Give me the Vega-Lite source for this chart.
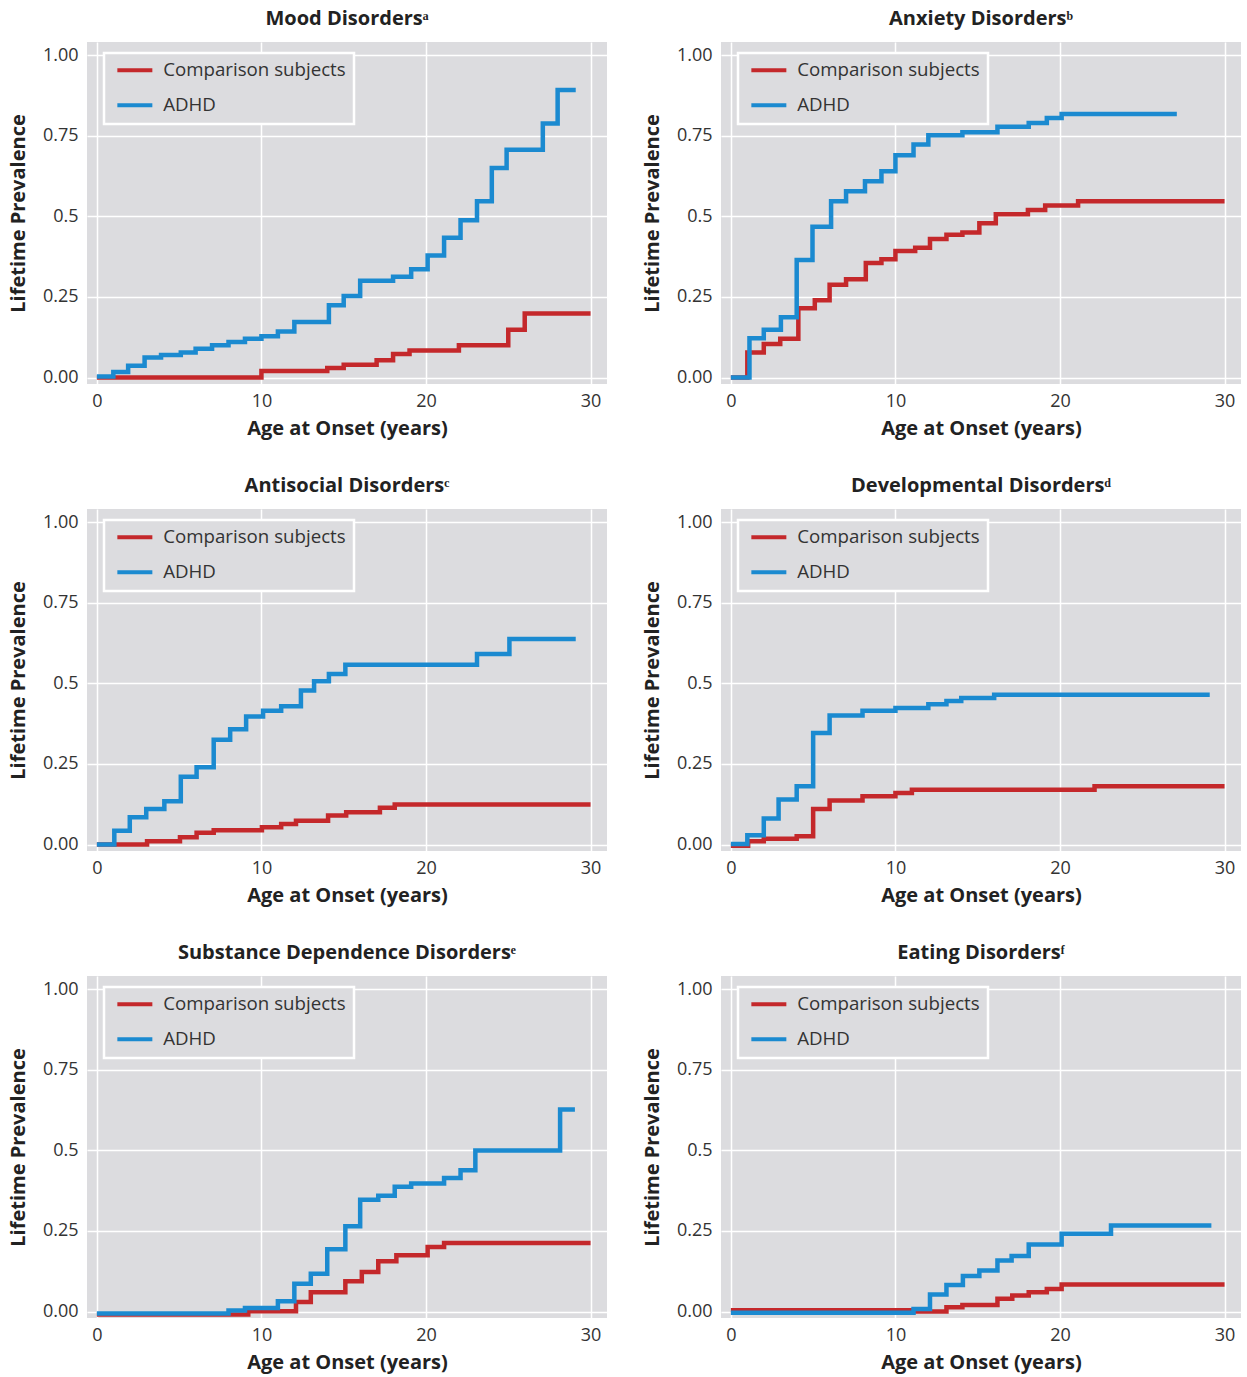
{
  "$schema": "https://vega.github.io/schema/vega-lite/v6.json",
  "padding": {"left": 8, "top": 9, "right": 0, "bottom": 2},
  "background": "white",
  "columns": 2,
  "spacing": {"row": 125, "column": 114},
  "bounds": "flush",
  "resolve": {"legend": {"color": "independent"}},
  "config": {
    "font": "Open Sans",
    "view": {"fill": "#dcdcdf", "stroke": null},
    "axis": {
      "grid": true, "gridColor": "#ffffff", "gridWidth": 1.5, "domain": false, "ticks": false,
      "labelFontSize": 18, "labelColor": "#333333", "labelPadding": 8,
      "titleFontSize": 20, "titleFontWeight": "bold", "titleColor": "#222222"
    },
    "axisY": {"labelPadding": 9, "titlePadding": 14},
    "axisX": {"titlePadding": 8},
    "title": {"fontSize": 20, "fontWeight": "bold", "color": "#222222", "offset": 13, "anchor": "middle"},
    "legend": {
      "orient": "none", "legendX": 17, "legendY": 11,
      "title": null, "symbolType": "M-2.5,0H2.5", "symbolStrokeWidth": 4, "symbolSize": 196,
      "labelFontSize": 18.7, "labelColor": "#333333", "labelOffset": 19, "labelLimit": 400,
      "padding": 8, "symbolOffset": 13.5, "rowPadding": 15,
      "strokeColor": "#ffffff", "strokeWidth": 2.5, "fillColor": "#dcdcdf"
    }
  },
  "datasets": {
    "mood": [
      {"g": "Comparison subjects", "a": 0, "p": 0}, {"g": "Comparison subjects", "a": 10, "p": 0.02}, {"g": "Comparison subjects", "a": 14, "p": 0.03}, {"g": "Comparison subjects", "a": 15, "p": 0.04}, {"g": "Comparison subjects", "a": 17, "p": 0.054}, {"g": "Comparison subjects", "a": 18, "p": 0.073}, {"g": "Comparison subjects", "a": 19, "p": 0.084}, {"g": "Comparison subjects", "a": 22, "p": 0.1}, {"g": "Comparison subjects", "a": 25, "p": 0.148}, {"g": "Comparison subjects", "a": 26, "p": 0.199}, {"g": "Comparison subjects", "a": 30, "p": 0.199},
      {"g": "ADHD", "a": 0, "p": 0.003}, {"g": "ADHD", "a": 1, "p": 0.017}, {"g": "ADHD", "a": 1.9, "p": 0.037}, {"g": "ADHD", "a": 2.9, "p": 0.062}, {"g": "ADHD", "a": 3.9, "p": 0.07}, {"g": "ADHD", "a": 5.1, "p": 0.078}, {"g": "ADHD", "a": 6, "p": 0.089}, {"g": "ADHD", "a": 7, "p": 0.1}, {"g": "ADHD", "a": 8, "p": 0.11}, {"g": "ADHD", "a": 9, "p": 0.12}, {"g": "ADHD", "a": 10, "p": 0.128}, {"g": "ADHD", "a": 11, "p": 0.143}, {"g": "ADHD", "a": 12, "p": 0.172}, {"g": "ADHD", "a": 14.1, "p": 0.224}, {"g": "ADHD", "a": 15, "p": 0.253}, {"g": "ADHD", "a": 16, "p": 0.3}, {"g": "ADHD", "a": 18, "p": 0.313}, {"g": "ADHD", "a": 19.1, "p": 0.336}, {"g": "ADHD", "a": 20.1, "p": 0.379}, {"g": "ADHD", "a": 21.1, "p": 0.434}, {"g": "ADHD", "a": 22.1, "p": 0.488}, {"g": "ADHD", "a": 23.1, "p": 0.547}, {"g": "ADHD", "a": 24, "p": 0.65}, {"g": "ADHD", "a": 24.9, "p": 0.707}, {"g": "ADHD", "a": 27.1, "p": 0.788}, {"g": "ADHD", "a": 28, "p": 0.892}, {"g": "ADHD", "a": 29.1, "p": 0.892}
    ],
    "anx": [
      {"g": "Comparison subjects", "a": 0, "p": 0}, {"g": "Comparison subjects", "a": 1, "p": 0.078}, {"g": "Comparison subjects", "a": 2, "p": 0.104}, {"g": "Comparison subjects", "a": 3, "p": 0.12}, {"g": "Comparison subjects", "a": 4.1, "p": 0.215}, {"g": "Comparison subjects", "a": 5.1, "p": 0.24}, {"g": "Comparison subjects", "a": 6, "p": 0.288}, {"g": "Comparison subjects", "a": 7, "p": 0.305}, {"g": "Comparison subjects", "a": 8.2, "p": 0.355}, {"g": "Comparison subjects", "a": 9.15, "p": 0.367}, {"g": "Comparison subjects", "a": 10, "p": 0.393}, {"g": "Comparison subjects", "a": 11.2, "p": 0.403}, {"g": "Comparison subjects", "a": 12.1, "p": 0.43}, {"g": "Comparison subjects", "a": 13.1, "p": 0.443}, {"g": "Comparison subjects", "a": 14.07, "p": 0.45}, {"g": "Comparison subjects", "a": 15.1, "p": 0.479}, {"g": "Comparison subjects", "a": 16.1, "p": 0.507}, {"g": "Comparison subjects", "a": 18.05, "p": 0.52}, {"g": "Comparison subjects", "a": 19.1, "p": 0.534}, {"g": "Comparison subjects", "a": 21.1, "p": 0.547}, {"g": "Comparison subjects", "a": 30, "p": 0.547},
      {"g": "ADHD", "a": 0, "p": 0}, {"g": "ADHD", "a": 1.13, "p": 0.122}, {"g": "ADHD", "a": 2, "p": 0.148}, {"g": "ADHD", "a": 3.04, "p": 0.187}, {"g": "ADHD", "a": 4, "p": 0.365}, {"g": "ADHD", "a": 4.96, "p": 0.468}, {"g": "ADHD", "a": 6.09, "p": 0.547}, {"g": "ADHD", "a": 7, "p": 0.578}, {"g": "ADHD", "a": 8.15, "p": 0.609}, {"g": "ADHD", "a": 9.15, "p": 0.64}, {"g": "ADHD", "a": 10, "p": 0.69}, {"g": "ADHD", "a": 11.1, "p": 0.723}, {"g": "ADHD", "a": 12, "p": 0.752}, {"g": "ADHD", "a": 14.07, "p": 0.761}, {"g": "ADHD", "a": 16.2, "p": 0.778}, {"g": "ADHD", "a": 18.1, "p": 0.79}, {"g": "ADHD", "a": 19.2, "p": 0.805}, {"g": "ADHD", "a": 20.1, "p": 0.818}, {"g": "ADHD", "a": 27.1, "p": 0.818}
    ],
    "anti": [
      {"g": "Comparison subjects", "a": 0, "p": 0}, {"g": "Comparison subjects", "a": 3.05, "p": 0.01}, {"g": "Comparison subjects", "a": 5.05, "p": 0.023}, {"g": "Comparison subjects", "a": 6.06, "p": 0.037}, {"g": "Comparison subjects", "a": 7.1, "p": 0.044}, {"g": "Comparison subjects", "a": 10.03, "p": 0.054}, {"g": "Comparison subjects", "a": 11.2, "p": 0.064}, {"g": "Comparison subjects", "a": 12.1, "p": 0.074}, {"g": "Comparison subjects", "a": 14.05, "p": 0.09}, {"g": "Comparison subjects", "a": 15.15, "p": 0.1}, {"g": "Comparison subjects", "a": 17.2, "p": 0.114}, {"g": "Comparison subjects", "a": 18.1, "p": 0.124}, {"g": "Comparison subjects", "a": 30, "p": 0.124},
      {"g": "ADHD", "a": 0, "p": 0}, {"g": "ADHD", "a": 1.06, "p": 0.043}, {"g": "ADHD", "a": 2, "p": 0.085}, {"g": "ADHD", "a": 3, "p": 0.11}, {"g": "ADHD", "a": 4.1, "p": 0.134}, {"g": "ADHD", "a": 5.1, "p": 0.21}, {"g": "ADHD", "a": 6.06, "p": 0.24}, {"g": "ADHD", "a": 7.1, "p": 0.325}, {"g": "ADHD", "a": 8.1, "p": 0.358}, {"g": "ADHD", "a": 9.07, "p": 0.397}, {"g": "ADHD", "a": 10.1, "p": 0.415}, {"g": "ADHD", "a": 11.2, "p": 0.429}, {"g": "ADHD", "a": 12.4, "p": 0.478}, {"g": "ADHD", "a": 13.2, "p": 0.507}, {"g": "ADHD", "a": 14.1, "p": 0.529}, {"g": "ADHD", "a": 15.1, "p": 0.558}, {"g": "ADHD", "a": 23.1, "p": 0.591}, {"g": "ADHD", "a": 25.07, "p": 0.638}, {"g": "ADHD", "a": 29.1, "p": 0.638}
    ],
    "dev": [
      {"g": "Comparison subjects", "a": 0, "p": -0.004}, {"g": "Comparison subjects", "a": 1.05, "p": 0.01}, {"g": "Comparison subjects", "a": 2, "p": 0.018}, {"g": "Comparison subjects", "a": 4, "p": 0.026}, {"g": "Comparison subjects", "a": 5, "p": 0.11}, {"g": "Comparison subjects", "a": 6, "p": 0.137}, {"g": "Comparison subjects", "a": 8, "p": 0.15}, {"g": "Comparison subjects", "a": 10, "p": 0.16}, {"g": "Comparison subjects", "a": 11, "p": 0.17}, {"g": "Comparison subjects", "a": 22.1, "p": 0.181}, {"g": "Comparison subjects", "a": 30, "p": 0.181},
      {"g": "ADHD", "a": 0, "p": 0.002}, {"g": "ADHD", "a": 1, "p": 0.029}, {"g": "ADHD", "a": 2, "p": 0.081}, {"g": "ADHD", "a": 2.9, "p": 0.14}, {"g": "ADHD", "a": 4, "p": 0.181}, {"g": "ADHD", "a": 5, "p": 0.346}, {"g": "ADHD", "a": 6, "p": 0.4}, {"g": "ADHD", "a": 8, "p": 0.415}, {"g": "ADHD", "a": 10, "p": 0.424}, {"g": "ADHD", "a": 12, "p": 0.435}, {"g": "ADHD", "a": 13.1, "p": 0.445}, {"g": "ADHD", "a": 14, "p": 0.455}, {"g": "ADHD", "a": 16, "p": 0.465}, {"g": "ADHD", "a": 29.1, "p": 0.465}
    ],
    "sub": [
      {"g": "Comparison subjects", "a": 0, "p": -0.009}, {"g": "Comparison subjects", "a": 9.2, "p": 0.001}, {"g": "Comparison subjects", "a": 12.1, "p": 0.03}, {"g": "Comparison subjects", "a": 13, "p": 0.06}, {"g": "Comparison subjects", "a": 15.1, "p": 0.094}, {"g": "Comparison subjects", "a": 16.1, "p": 0.123}, {"g": "Comparison subjects", "a": 17.1, "p": 0.156}, {"g": "Comparison subjects", "a": 18.2, "p": 0.175}, {"g": "Comparison subjects", "a": 20.1, "p": 0.2}, {"g": "Comparison subjects", "a": 21.1, "p": 0.213}, {"g": "Comparison subjects", "a": 30, "p": 0.213},
      {"g": "ADHD", "a": 0, "p": -0.006}, {"g": "ADHD", "a": 8, "p": 0.003}, {"g": "ADHD", "a": 9, "p": 0.011}, {"g": "ADHD", "a": 11, "p": 0.032}, {"g": "ADHD", "a": 12, "p": 0.086}, {"g": "ADHD", "a": 13, "p": 0.117}, {"g": "ADHD", "a": 14, "p": 0.193}, {"g": "ADHD", "a": 15.1, "p": 0.265}, {"g": "ADHD", "a": 16, "p": 0.347}, {"g": "ADHD", "a": 17.1, "p": 0.359}, {"g": "ADHD", "a": 18.1, "p": 0.387}, {"g": "ADHD", "a": 19.1, "p": 0.397}, {"g": "ADHD", "a": 21.1, "p": 0.414}, {"g": "ADHD", "a": 22.1, "p": 0.438}, {"g": "ADHD", "a": 23, "p": 0.5}, {"g": "ADHD", "a": 28.15, "p": 0.627}, {"g": "ADHD", "a": 29.05, "p": 0.627}
    ],
    "eat": [
      {"g": "Comparison subjects", "a": 0, "p": 0.004}, {"g": "Comparison subjects", "a": 11, "p": 0}, {"g": "Comparison subjects", "a": 13.1, "p": 0.013}, {"g": "Comparison subjects", "a": 14.07, "p": 0.02}, {"g": "Comparison subjects", "a": 16.2, "p": 0.04}, {"g": "Comparison subjects", "a": 17.1, "p": 0.05}, {"g": "Comparison subjects", "a": 18.1, "p": 0.06}, {"g": "Comparison subjects", "a": 19.2, "p": 0.07}, {"g": "Comparison subjects", "a": 20.1, "p": 0.084}, {"g": "Comparison subjects", "a": 30, "p": 0.084},
      {"g": "ADHD", "a": 0, "p": -0.004}, {"g": "ADHD", "a": 11.1, "p": 0.008}, {"g": "ADHD", "a": 12.1, "p": 0.053}, {"g": "ADHD", "a": 13.1, "p": 0.082}, {"g": "ADHD", "a": 14.1, "p": 0.11}, {"g": "ADHD", "a": 15.1, "p": 0.127}, {"g": "ADHD", "a": 16.2, "p": 0.158}, {"g": "ADHD", "a": 17.06, "p": 0.172}, {"g": "ADHD", "a": 18.1, "p": 0.208}, {"g": "ADHD", "a": 20.1, "p": 0.241}, {"g": "ADHD", "a": 23.1, "p": 0.267}, {"g": "ADHD", "a": 29.2, "p": 0.267}
    ]
  },
  "concat": [
    {"title": "Mood Disordersᵃ", "width": 520, "height": 342, "data": {"name": "mood"},
     "mark": {"type": "line", "interpolate": "step-after", "strokeWidth": 4.5},
     "encoding": {
       "x": {"field": "a", "type": "quantitative", "scale": {"domain": [-0.6, 31], "nice": false, "zero": false}, "axis": {"values": [0, 10, 20, 30], "title": "Age at Onset (years)"}},
       "y": {"field": "p", "type": "quantitative", "scale": {"domain": [-0.02, 1.041], "nice": false, "zero": false}, "axis": {"values": [0, 0.25, 0.5, 0.75, 1], "labelExpr": "datum.value == 0.5 ? '0.5' : format(datum.value, '.2f')", "title": "Lifetime Prevalence"}},
       "color": {"field": "g", "type": "nominal", "scale": {"domain": ["Comparison subjects", "ADHD"], "range": ["#c4282b", "#1b8ad0"]}}
     }},
    {"title": "Anxiety Disordersᵇ", "width": 520, "height": 342, "data": {"name": "anx"},
     "mark": {"type": "line", "interpolate": "step-after", "strokeWidth": 4.5},
     "encoding": {
       "x": {"field": "a", "type": "quantitative", "scale": {"domain": [-0.6, 31], "nice": false, "zero": false}, "axis": {"values": [0, 10, 20, 30], "title": "Age at Onset (years)"}},
       "y": {"field": "p", "type": "quantitative", "scale": {"domain": [-0.02, 1.041], "nice": false, "zero": false}, "axis": {"values": [0, 0.25, 0.5, 0.75, 1], "labelExpr": "datum.value == 0.5 ? '0.5' : format(datum.value, '.2f')", "title": "Lifetime Prevalence"}},
       "color": {"field": "g", "type": "nominal", "scale": {"domain": ["Comparison subjects", "ADHD"], "range": ["#c4282b", "#1b8ad0"]}}
     }},
    {"title": "Antisocial Disordersᶜ", "width": 520, "height": 342, "data": {"name": "anti"},
     "mark": {"type": "line", "interpolate": "step-after", "strokeWidth": 4.5},
     "encoding": {
       "x": {"field": "a", "type": "quantitative", "scale": {"domain": [-0.6, 31], "nice": false, "zero": false}, "axis": {"values": [0, 10, 20, 30], "title": "Age at Onset (years)"}},
       "y": {"field": "p", "type": "quantitative", "scale": {"domain": [-0.02, 1.041], "nice": false, "zero": false}, "axis": {"values": [0, 0.25, 0.5, 0.75, 1], "labelExpr": "datum.value == 0.5 ? '0.5' : format(datum.value, '.2f')", "title": "Lifetime Prevalence"}},
       "color": {"field": "g", "type": "nominal", "scale": {"domain": ["Comparison subjects", "ADHD"], "range": ["#c4282b", "#1b8ad0"]}}
     }},
    {"title": "Developmental Disordersᵈ", "width": 520, "height": 342, "data": {"name": "dev"},
     "mark": {"type": "line", "interpolate": "step-after", "strokeWidth": 4.5},
     "encoding": {
       "x": {"field": "a", "type": "quantitative", "scale": {"domain": [-0.6, 31], "nice": false, "zero": false}, "axis": {"values": [0, 10, 20, 30], "title": "Age at Onset (years)"}},
       "y": {"field": "p", "type": "quantitative", "scale": {"domain": [-0.02, 1.041], "nice": false, "zero": false}, "axis": {"values": [0, 0.25, 0.5, 0.75, 1], "labelExpr": "datum.value == 0.5 ? '0.5' : format(datum.value, '.2f')", "title": "Lifetime Prevalence"}},
       "color": {"field": "g", "type": "nominal", "scale": {"domain": ["Comparison subjects", "ADHD"], "range": ["#c4282b", "#1b8ad0"]}}
     }},
    {"title": "Substance Dependence Disordersᵉ", "width": 520, "height": 342, "data": {"name": "sub"},
     "mark": {"type": "line", "interpolate": "step-after", "strokeWidth": 4.5},
     "encoding": {
       "x": {"field": "a", "type": "quantitative", "scale": {"domain": [-0.6, 31], "nice": false, "zero": false}, "axis": {"values": [0, 10, 20, 30], "title": "Age at Onset (years)"}},
       "y": {"field": "p", "type": "quantitative", "scale": {"domain": [-0.02, 1.041], "nice": false, "zero": false}, "axis": {"values": [0, 0.25, 0.5, 0.75, 1], "labelExpr": "datum.value == 0.5 ? '0.5' : format(datum.value, '.2f')", "title": "Lifetime Prevalence"}},
       "color": {"field": "g", "type": "nominal", "scale": {"domain": ["Comparison subjects", "ADHD"], "range": ["#c4282b", "#1b8ad0"]}}
     }},
    {"title": "Eating Disordersᶠ", "width": 520, "height": 342, "data": {"name": "eat"},
     "mark": {"type": "line", "interpolate": "step-after", "strokeWidth": 4.5},
     "encoding": {
       "x": {"field": "a", "type": "quantitative", "scale": {"domain": [-0.6, 31], "nice": false, "zero": false}, "axis": {"values": [0, 10, 20, 30], "title": "Age at Onset (years)"}},
       "y": {"field": "p", "type": "quantitative", "scale": {"domain": [-0.02, 1.041], "nice": false, "zero": false}, "axis": {"values": [0, 0.25, 0.5, 0.75, 1], "labelExpr": "datum.value == 0.5 ? '0.5' : format(datum.value, '.2f')", "title": "Lifetime Prevalence"}},
       "color": {"field": "g", "type": "nominal", "scale": {"domain": ["Comparison subjects", "ADHD"], "range": ["#c4282b", "#1b8ad0"]}}
     }}
  ]
}
